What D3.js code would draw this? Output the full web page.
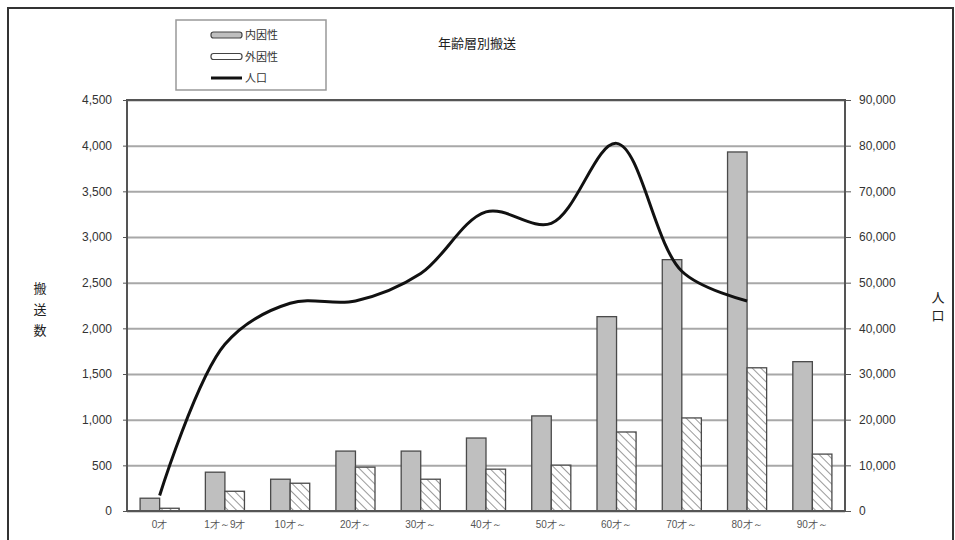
<!DOCTYPE html>
<html lang="ja">
<head>
<meta charset="utf-8">
<script src="https://cdn.jsdelivr.net/npm/d3@7"></script>
<style>
  html, body { margin: 0; padding: 0; background: #fff; }
  svg { display: block; font-family: "Noto Sans CJK JP", "Noto Sans", sans-serif; }
</style>
</head>
<body>
<svg id="chart" width="955" height="540"></svg>
<script>
// 年齢層別の搬送人員（内因性・外因性）と人口
const categories = ["0才", "1才～9才", "10才～", "20才～", "30才～", "40才～", "50才～", "60才～", "70才～", "80才～", "90才～"];
const seriesNames = ["内因性", "外因性"];
const internalCounts = [140, 425, 348, 656, 656, 799, 1041, 2128, 2752, 3931, 1635];
const externalCounts = [30, 216, 304, 480, 348, 458, 502, 865, 1019, 1568, 623];
// 人口（90才～は集計なし）
const populationCats = ["0才", "1才～9才", "10才～", "20才～", "30才～", "40才～", "50才～", "60才～", "70才～", "80才～"];
const population = [3400, 36500, 45500, 46000, 52000, 65500, 63000, 80500, 52500, 46000];
const leftTicks = [0, 500, 1000, 1500, 2000, 2500, 3000, 3500, 4000, 4500];
const rightTicks = [0, 10000, 20000, 30000, 40000, 50000, 60000, 70000, 80000, 90000];

const svg = d3.select("#chart");
const plot = { left: 127, right: 845, top: 100, bottom: 511 };

// outer frame
svg.append("path")
  .attr("d", `M8,560 V8 H953 V560`)
  .attr("fill", "none").attr("stroke", "#333").attr("stroke-width", 2);

// hatch pattern for 外因性
const defs = svg.append("defs");
const pat = defs.append("pattern")
  .attr("id", "hatch").attr("patternUnits", "userSpaceOnUse")
  .attr("width", 6).attr("height", 6)
  .attr("patternTransform", "rotate(-45)");
pat.append("rect").attr("width", 6).attr("height", 6).attr("fill", "#fff");
pat.append("line").attr("x1", 0).attr("y1", 0).attr("x2", 0).attr("y2", 6)
  .attr("stroke", "#808080").attr("stroke-width", 1.6);

const x = d3.scaleBand().domain(categories).range([plot.left, plot.right]).padding(0);
const xInner = d3.scaleBand().domain(seriesNames).range([0, x.bandwidth()]).paddingInner(0).paddingOuter(0.67);
const yL = d3.scaleLinear().domain([0, 4500]).range([plot.bottom, plot.top]);
const yR = d3.scaleLinear().domain([0, 90000]).range([plot.bottom, plot.top]);

// gridlines
svg.append("g")
  .attr("transform", `translate(${plot.left},0)`)
  .call(d3.axisLeft(yL).tickValues(leftTicks).tickSize(-(plot.right - plot.left)).tickFormat(""))
  .call(g => g.select(".domain").remove())
  .call(g => g.selectAll("line").attr("stroke", "#a8a8a8").attr("stroke-width", 2));

// bars
const rows = categories.map((c, i) => ({ c, v: [internalCounts[i], externalCounts[i]] }));
const groups = svg.append("g").selectAll("g").data(rows).join("g")
  .attr("transform", d => `translate(${x(d.c)},0)`);
groups.selectAll("rect").data(d => d.v.map((v, j) => ({ name: seriesNames[j], v })))
  .join("rect")
  .attr("x", d => xInner(d.name))
  .attr("width", xInner.bandwidth())
  .attr("y", d => yL(d.v))
  .attr("height", d => yL(0) - yL(d.v))
  .attr("fill", d => d.name === "内因性" ? "#bfbfbf" : "url(#hatch)")
  .attr("stroke", "#4a4a4a").attr("stroke-width", 1.3);

// population line
const line = d3.line()
  .x((d, i) => x(populationCats[i]) + x.bandwidth() / 2)
  .y(d => yR(d))
  .curve(d3.curveCatmullRom.alpha(0.5));
svg.append("path").datum(population)
  .attr("d", line).attr("fill", "none")
  .attr("stroke", "#111").attr("stroke-width", 3).attr("stroke-linejoin", "round");

// plot frame
svg.append("rect")
  .attr("x", plot.left).attr("y", plot.top)
  .attr("width", plot.right - plot.left).attr("height", plot.bottom - plot.top)
  .attr("fill", "none").attr("stroke", "#555").attr("stroke-width", 2);

// axes
const fmt = d3.format(",");
svg.append("g")
  .attr("transform", `translate(${plot.left},0)`)
  .call(d3.axisLeft(yL).tickValues(leftTicks).tickSize(4).tickPadding(11).tickFormat(fmt))
  .call(g => g.select(".domain").remove())
  .call(g => g.selectAll("line").attr("stroke", "#555"))
  .call(g => g.selectAll("text").attr("font-size", 12).attr("fill", "#333").attr("font-family", "Liberation Sans, Arial, sans-serif"));

svg.append("g")
  .attr("transform", `translate(${plot.right},0)`)
  .call(d3.axisRight(yR).tickValues(rightTicks).tickSize(6).tickPadding(8).tickFormat(fmt))
  .call(g => g.select(".domain").remove())
  .call(g => g.selectAll("line").attr("stroke", "#555"))
  .call(g => g.selectAll("text").attr("font-size", 12).attr("fill", "#333").attr("font-family", "Liberation Sans, Arial, sans-serif"));

svg.append("g")
  .attr("transform", `translate(0,${plot.bottom})`)
  .call(d3.axisBottom(x).tickSize(0).tickPadding(10))
  .call(g => g.select(".domain").remove())
  .call(g => g.selectAll("text").attr("font-size", 10).attr("fill", "#555"));

// axis titles (vertical)
const leftTitle = svg.append("text").attr("font-size", 13).attr("fill", "#222").attr("text-anchor", "middle");
"搬送数".split("").forEach((ch, i) => leftTitle.append("tspan").attr("x", 40).attr("y", 293 + i * 21).text(ch));
const rightTitle = svg.append("text").attr("font-size", 13).attr("fill", "#222").attr("text-anchor", "middle");
"人口".split("").forEach((ch, i) => rightTitle.append("tspan").attr("x", 938).attr("y", 302 + i * 18).text(ch));

// title
svg.append("text").attr("x", 477).attr("y", 48).attr("text-anchor", "middle")
  .attr("font-size", 13).attr("fill", "#222").text("年齢層別搬送");

// legend
const lg = svg.append("g");
lg.append("rect").attr("x", 176).attr("y", 20).attr("width", 150).attr("height", 70)
  .attr("fill", "#fff").attr("stroke", "#999").attr("stroke-width", 1.5);
const legendItems = [
  { name: "内因性", type: "bar", fill: "#bfbfbf" },
  { name: "外因性", type: "bar", fill: "#fff" },
  { name: "人口", type: "line" }
];
legendItems.forEach((d, i) => {
  const cy = 35 + i * 21.5;
  if (d.type === "bar") {
    lg.append("rect").attr("x", 211).attr("y", cy - 3).attr("width", 31).attr("height", 6).attr("rx", 2.5)
      .attr("fill", d.fill).attr("stroke", "#444").attr("stroke-width", 1.2);
  } else {
    lg.append("line").attr("x1", 211).attr("x2", 242).attr("y1", cy).attr("y2", cy)
      .attr("stroke", "#111").attr("stroke-width", 3);
  }
  lg.append("text").attr("x", 245).attr("y", cy + 4).attr("font-size", 11).attr("fill", "#333").text(d.name);
});
</script>
</body>
</html>
